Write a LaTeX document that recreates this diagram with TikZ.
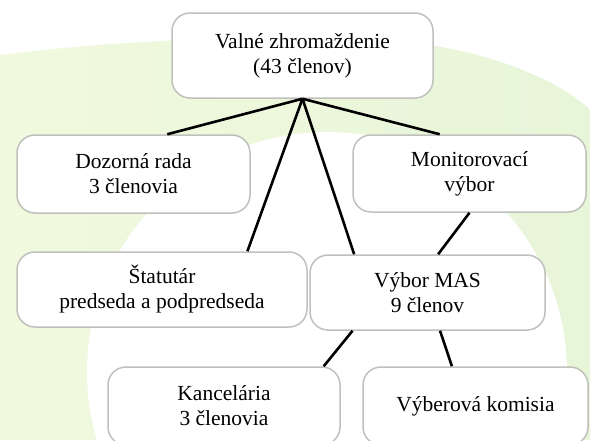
\documentclass[tikz,border=0pt]{standalone}
\usepackage{fontspec}
\setmainfont{Liberation Serif}
\usetikzlibrary{calc}
\definecolor{bgleft}{RGB}{241,249,222}
\definecolor{bgright}{RGB}{231,245,217}
\definecolor{boxline}{RGB}{192,192,188}
\tikzset{
  orgbox/.style={draw=boxline, line width=1.5pt, fill=white, rounded corners=18pt,
    align=center, inner sep=0pt, font=\fontsize{21.5}{25}\selectfont},
  link/.style={draw=black, line width=2.6pt}
}
\begin{document}
\begin{tikzpicture}[x=1pt,y=-1pt]
\useasboundingbox (0,0) rectangle (590,440);
\begin{scope}
\clip (0,0) rectangle (590,440);
\fill[white] (0,0) rectangle (590,440);
\shade[left color=bgleft, right color=bgright]
  (0,55) .. controls (120,40) and (250,35) .. (380,40)
  .. controls (480,45) and (560,80) .. (590,110) -- (590,440) -- (0,440) -- cycle;
\fill[white] (327,372) circle (240);
\end{scope}

\node[orgbox, minimum width=261pt, minimum height=85pt] (valne) at (302.5,55.5)
  {Valné zhromaždenie\\(43 členov)};
\node[orgbox, minimum width=233pt, minimum height=78pt] (dozorna) at (133.5,174)
  {Dozorná rada\\3 členovia};
\node[orgbox, minimum width=233pt, minimum height=77pt] (monitor) at (469.5,173.5)
  {Monitorovací\\výbor};
\node[orgbox, minimum width=290pt, minimum height=75pt] (statutar) at (162,289.5)
  {Štatutár\\predseda a podpredseda};
\node[orgbox, minimum width=235pt, minimum height=75pt] (vybor) at (427.5,292.5)
  {Výbor MAS\\9 členov};
\node[orgbox, minimum width=232pt, minimum height=78pt] (kancelaria) at (224,406)
  {Kancelária\\3 členovia};
\node[orgbox, minimum width=225pt, minimum height=78pt] (vyberova) at (475.5,406)
  {Výberová komisia};

\draw[link] (valne.south) -- ($(dozorna.north west)!0.644!(dozorna.north east)$);
\draw[link] (valne.south) -- ($(statutar.north west)!0.793!(statutar.north east)$);
\draw[link] (valne.south) -- ($(vybor.north west)!0.19!(vybor.north east)$);
\draw[link] (valne.south) -- ($(monitor.north west)!0.373!(monitor.north east)$);
\draw[link] (monitor.south) -- ($(vybor.north west)!0.545!(vybor.north east)$);
\draw[link] ($(vybor.south west)!0.183!(vybor.south east)$) -- ($(kancelaria.north west)!0.927!(kancelaria.north east)$);
\draw[link] ($(vybor.south west)!0.553!(vybor.south east)$) -- ($(vyberova.north west)!0.396!(vyberova.north east)$);
\end{tikzpicture}
\end{document}
